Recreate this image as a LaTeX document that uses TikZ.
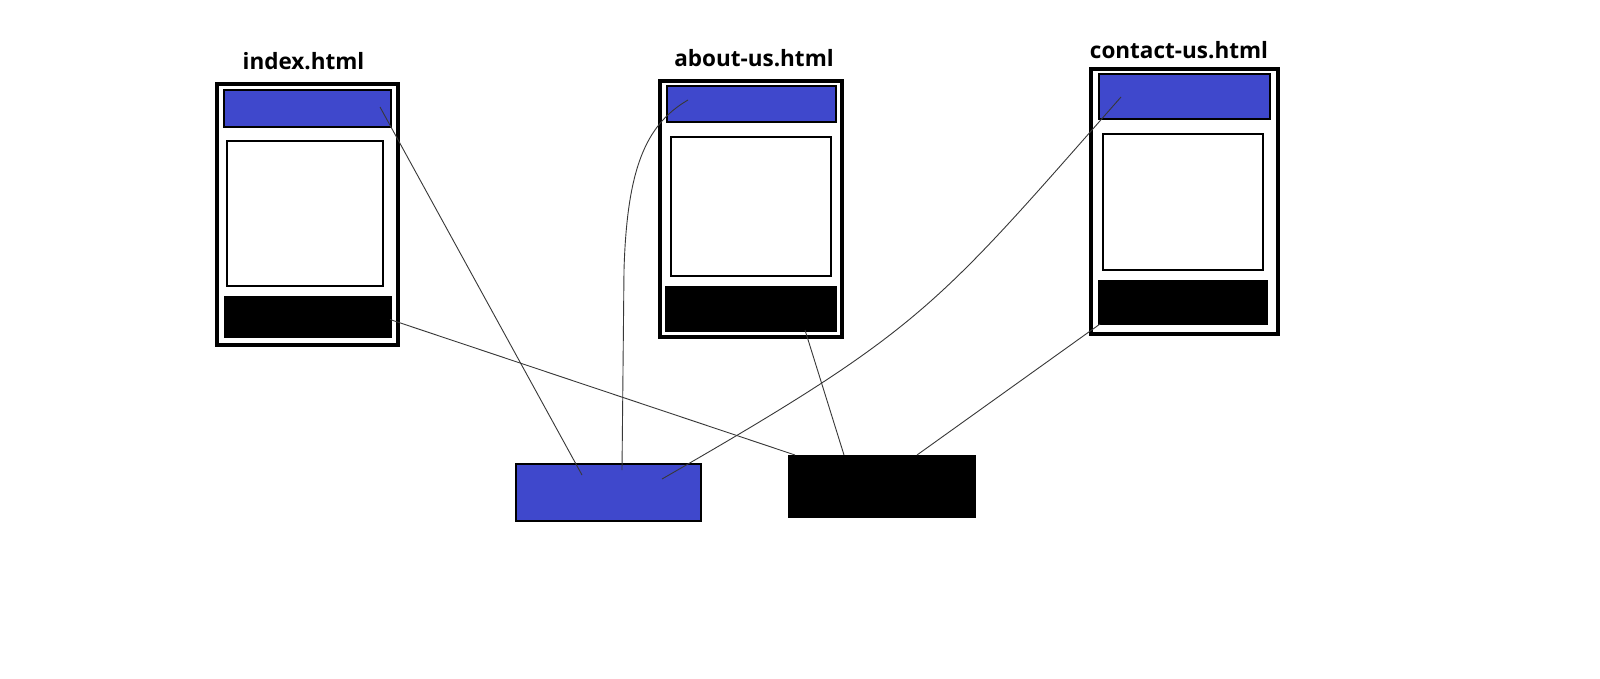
\documentclass[tikz,border=0pt]{standalone}
\usepackage{fontspec}
\setmainfont{Open Sans}
\definecolor{paintblue}{RGB}{63,72,204}
\begin{document}
\begin{tikzpicture}[x=1pt,y=-1pt,
  frame/.style={draw=black,line width=4pt,fill=white,rectangle,inner sep=0pt,outer sep=0pt},
  hdr/.style={draw=black,line width=2pt,fill=paintblue,rectangle,inner sep=0pt,outer sep=0pt},
  content/.style={draw=black,line width=2pt,fill=white,rectangle,inner sep=0pt,outer sep=0pt},
  foot/.style={fill=black,rectangle,inner sep=0pt,outer sep=0pt},
  pagetitle/.style={font=\bfseries\fontsize{22.5}{27}\selectfont,anchor=base,inner sep=0pt},
  link/.style={draw=black!78,line width=0.9pt}]
\useasboundingbox (0,0) rectangle (1600,679);
\fill[white] (0,0) rectangle (1600,679);

% index.html
\node[pagetitle] (ititle) at (303.5,70) {index.html};
\node[frame,minimum width=181pt,minimum height=260.7pt] (iframe) at (307.5,214.3) {};
\node[hdr,minimum width=167pt,minimum height=36.5pt] (ihdr) at (307.2,108.7) {};
\node[content,minimum width=156pt,minimum height=144.7pt] (ibody) at (305,213.4) {};
\node[foot,minimum width=167.4pt,minimum height=42.3pt] (ifoot) at (308,317.2) {};

% about-us.html
\node[pagetitle] (atitle) at (754,66.7) {about-us.html};
\node[frame,minimum width=182pt,minimum height=256pt] (aframe) at (751,209.3) {};
\node[hdr,minimum width=169pt,minimum height=36.3pt] (ahdr) at (751.2,104.2) {};
\node[content,minimum width=159.7pt,minimum height=139pt] (abody) at (750.8,206.2) {};
\node[foot,minimum width=172.3pt,minimum height=46.6pt] (afoot) at (751.2,309) {};

% contact-us.html
\node[pagetitle] (ctitle) at (1179,58.3) {contact-us.html};
\node[frame,minimum width=186.7pt,minimum height=265.3pt] (cframe) at (1184.7,201.4) {};
\node[hdr,minimum width=171.3pt,minimum height=44.7pt] (chdr) at (1184.3,96.7) {};
\node[content,minimum width=160.3pt,minimum height=135.4pt] (cbody) at (1182.8,202) {};
\node[foot,minimum width=170.6pt,minimum height=45pt] (cfoot) at (1183,302.5) {};

% shared header and footer
\node[hdr,minimum width=185pt,minimum height=57pt] (sharedhdr) at (608.5,492.5) {};
\node[foot,minimum width=188pt,minimum height=63pt] (sharedfoot) at (882,486.5) {};

% connector end points
\coordinate (i1) at (380,107);
\coordinate (i2) at (390,319.5);
\coordinate (a1) at (688,100);
\coordinate (a1m) at (624,270);
\coordinate (a2) at (805,330);
\coordinate (c1) at (1121,97);
\coordinate (c2) at (1100,324);
\coordinate (h1) at (582,475);
\coordinate (h2) at (622,470);
\coordinate (h3) at (662,479);
\coordinate (f1) at (795,455);
\coordinate (f2) at (844,455);
\coordinate (f3) at (917,455);

\draw[link] (i1) -- (h1);
\draw[link] (i2) -- (f1);
\draw[link] (a1) .. controls (645,125) and (627,170) .. (a1m) -- (h2);
\draw[link] (a2) -- (f2);
\draw[link] (c1) .. controls (936,307) and (923,329) .. (h3);
\draw[link] (c2) -- (f3);
\end{tikzpicture}
\end{document}
